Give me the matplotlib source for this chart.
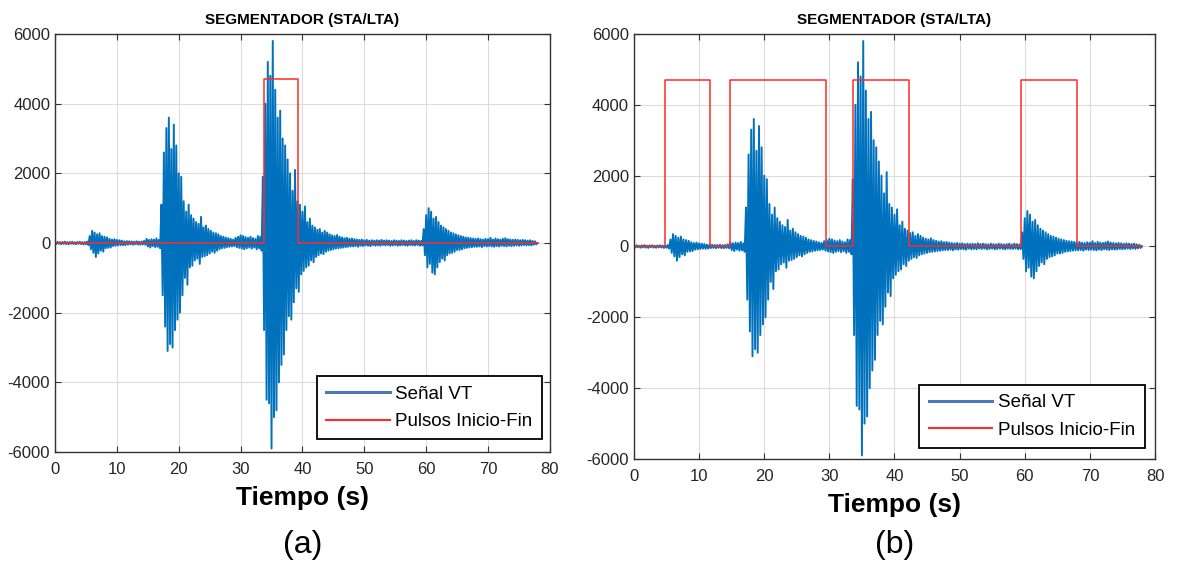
import numpy as np
import matplotlib
matplotlib.use("Agg")
import matplotlib.pyplot as plt

plt.rcParams['font.family'] = ['Liberation Sans', 'DejaVu Sans']
plt.rcParams['axes.unicode_minus'] = False

# VT signal, one sample every 0.2 s
dt = 0.2
senal = [
    20, -30, 35, -20, 25, -35, 30, -25, 40, -30,
    25, -40, 30, -20, 35, -30, 20, -35, 30, -25,
    35, -30, 25, -40, 30, -35, 40, -60, 200, -180,
    350, -280, 300, -400, 250, -300, 280, -220, 200, -250,
    180, -150, 160, -140, 120, -130, 100, -90, 110, -80,
    90, -70, 80, -60, 70, -65, 50, -60, 55, -45,
    50, -40, 45, -50, 40, -35, 50, -45, 40, -50,
    45, -40, 60, -50, 120, -100, 90, -130, 110, -90,
    100, -120, 130, -110, 90, -150, 1100, -1500, 2600, -2400,
    3300, -3100, 3600, -2900, 2700, -3000, 3400, -2500, 2800, -2200,
    2000, -2000, 1900, -1500, 1200, -1000, 900, -1200, 1100, -700,
    800, -650, 700, -500, 600, -450, 550, -600, 750, -400,
    450, -380, 500, -350, 400, -300, 350, -250, 300, -280,
    280, -220, 250, -180, 200, -150, 180, -140, 160, -120,
    140, -110, 120, -100, 100, -90, 150, -120, 180, -140,
    220, -160, 200, -180, 170, -150, 150, -130, 180, -160,
    140, -130, 120, -180, 200, -150, 180, -220, 1900, -2500,
    4000, -4500, 5200, -4600, 4800, -5900, 5800, -5000, 4400, -4800,
    3600, -4000, 3800, -3500, 3000, -3200, 2800, -2500, 2400, -2100,
    2000, -2200, 1500, -1700, 2100, -1300, 1200, -1400, 1100, -900,
    900, -800, 1050, -700, 600, -650, 700, -500, 500, -550,
    450, -400, 380, -350, 400, -300, 300, -320, 350, -250,
    300, -220, 250, -200, 220, -180, 200, -160, 230, -150,
    180, -140, 160, -130, 140, -120, 150, -110, 120, -100,
    130, -100, 110, -90, 100, -110, 90, -80, 100, -90,
    80, -70, 90, -80, 70, -90, 80, -60, 70, -80,
    80, -70, 70, -80, 90, -60, 70, -70, 80, -60,
    70, -80, 60, -70, 80, -60, 70, -80, 60, -70,
    80, -60, 70, -70, 60, -80, 70, -60, 80, -70,
    60, -70, 80, -60, 70, -80, 60, -70, 400, -350,
    800, -700, 1000, -600, 900, -850, 700, -900, 750, -700,
    600, -550, 500, -450, 450, -500, 400, -350, 350, -300,
    300, -280, 280, -250, 250, -200, 220, -200, 200, -180,
    180, -150, 160, -140, 150, -130, 140, -120, 130, -110,
    120, -110, 130, -100, 110, -120, 100, -90, 120, -100,
    110, -90, 150, -100, 100, -110, 130, -90, 110, -100,
    100, -80, 120, -90, 140, -100, 110, -80, 100, -90,
    90, -80, 100, -70, 90, -80, 80, -70, 90, -60,
    80, -70, 70, -60, 80, -70, 60, -50, 50, -40,
    0,
]
tiempo = np.arange(len(senal)) * dt

# start / end of each detected segment (s)
pulsos_a = [(33.8, 39.3)]
pulsos_b = [(4.8, 11.7), (14.8, 29.5), (33.6, 42.2), (59.4, 68.0)]
altura_pulso = 4700
t_fin = 78.0

paneles = [
    (pulsos_a, '(a)', [0.0466, 0.2014, 0.419, 0.7385], (0.984, 0.03), -0.222),
    (pulsos_b, '(b)', [0.5368, 0.189, 0.4412, 0.751], (0.98, 0.026), -0.202),
]

fig = plt.figure(figsize=(11.81, 5.66), dpi=100)

for pulsos, letra, pos, leg_pos, y_letra in paneles:
    ax = fig.add_axes(pos)

    # build the step signal from the segment limits
    px, py = [0.0], [0.0]
    for t0, t1 in pulsos:
        px += [t0, t0, t1, t1]
        py += [0, altura_pulso, altura_pulso, 0]
    px.append(t_fin)
    py.append(0)

    ax.plot(tiempo, senal, color='#0072BD', lw=1.4, label='Señal VT')
    ax.plot(px, py, color='#FF2A2A', lw=1.1, label='Pulsos Inicio-Fin')

    ax.set_xlim(0, 80)
    ax.set_ylim(-6000, 6000)
    ax.set_xticks(range(0, 81, 10))
    ax.set_yticks(range(-6000, 6001, 2000))
    ax.grid(True, color='#DCDCDC', lw=0.8)
    ax.set_axisbelow(True)
    ax.tick_params(direction='in', top=True, right=True, labelsize=12,
                   color='#333333', labelcolor='#262626', length=4)
    ax.tick_params(axis='x', pad=7)
    for s in ax.spines.values():
        s.set_color('#333333')
        s.set_linewidth(1.0)

    ax.set_title('SEGMENTADOR (STA/LTA)', fontsize=11, fontweight='bold', pad=7)
    ax.set_xlabel('Tiempo (s)', fontsize=19, fontweight='bold', labelpad=7)
    ax.text(0.5, y_letra, letra, transform=ax.transAxes, ha='center',
            va='center', fontsize=23)

    leg = ax.legend(loc='lower right', bbox_to_anchor=leg_pos, fontsize=13.5,
                    handlelength=3.4, handletextpad=0.3, borderpad=0.5,
                    labelspacing=0.55, borderaxespad=0, fancybox=False,
                    framealpha=1, edgecolor='black')
    leg.get_frame().set_linewidth(1.3)
    leg.legend_handles[0].set_linewidth(2.2)
    leg.legend_handles[0].set_color('#4A78B8')
    leg.legend_handles[1].set_linewidth(1.5)

fig.savefig('out.png', dpi=100)
